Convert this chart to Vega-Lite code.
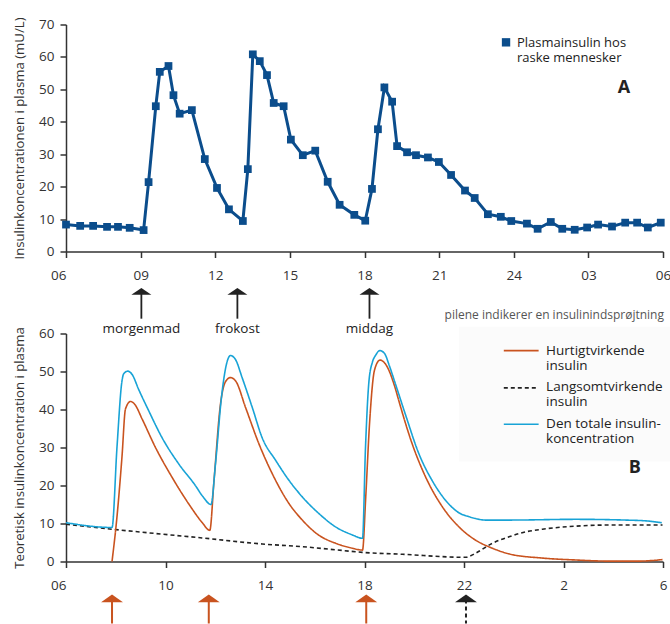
{
  "$schema": "https://vega.github.io/schema/vega-lite/v6.json",
  "padding": {"left": 12, "top": 16.5, "right": 0, "bottom": 0},
  "background": "white",
  "bounds": "flush",
  "spacing": 82,
  "config": {
    "view": {"stroke": null},
    "font": "Open Sans",
    "axis": {
      "grid": false,
      "domainColor": "#333333",
      "tickColor": "#333333",
      "labelColor": "#333333",
      "titleColor": "#333333",
      "labelFontSize": 13.5,
      "titleFontSize": 13.2,
      "titleFontWeight": "normal",
      "domainWidth": 1.5,
      "tickWidth": 1.5,
      "tickSize": 6,
      "labelOverlap": false
    }
  },
  "vconcat": [
    {
      "width": 597,
      "height": 227,
      "layer": [
        {
          "data": {"values": [
            {"hour": 6.0, "insulin": 8.3}, {"hour": 6.57, "insulin": 7.9}, {"hour": 7.09, "insulin": 7.9},
            {"hour": 7.65, "insulin": 7.6}, {"hour": 8.09, "insulin": 7.6}, {"hour": 8.56, "insulin": 7.3},
            {"hour": 9.12, "insulin": 6.6}, {"hour": 9.32, "insulin": 21.4}, {"hour": 9.61, "insulin": 44.8},
            {"hour": 9.77, "insulin": 55.4}, {"hour": 10.12, "insulin": 57.2}, {"hour": 10.32, "insulin": 48.2},
            {"hour": 10.57, "insulin": 42.5}, {"hour": 11.06, "insulin": 43.6}, {"hour": 11.58, "insulin": 28.5},
            {"hour": 12.07, "insulin": 19.6}, {"hour": 12.55, "insulin": 13.0}, {"hour": 13.11, "insulin": 9.4},
            {"hour": 13.31, "insulin": 25.4}, {"hour": 13.51, "insulin": 60.8}, {"hour": 13.79, "insulin": 58.7},
            {"hour": 14.08, "insulin": 54.4}, {"hour": 14.35, "insulin": 45.8}, {"hour": 14.75, "insulin": 44.8},
            {"hour": 15.04, "insulin": 34.5}, {"hour": 15.52, "insulin": 29.7}, {"hour": 16.02, "insulin": 31.1},
            {"hour": 16.52, "insulin": 21.5}, {"hour": 17.0, "insulin": 14.4}, {"hour": 17.59, "insulin": 11.3},
            {"hour": 18.03, "insulin": 9.5}, {"hour": 18.3, "insulin": 19.3}, {"hour": 18.54, "insulin": 37.7},
            {"hour": 18.8, "insulin": 50.6}, {"hour": 19.11, "insulin": 46.2}, {"hour": 19.31, "insulin": 32.5},
            {"hour": 19.71, "insulin": 30.6}, {"hour": 20.07, "insulin": 29.7}, {"hour": 20.55, "insulin": 29.0},
            {"hour": 20.99, "insulin": 27.6}, {"hour": 21.48, "insulin": 23.6}, {"hour": 22.04, "insulin": 18.8},
            {"hour": 22.43, "insulin": 16.5}, {"hour": 22.96, "insulin": 11.5}, {"hour": 23.48, "insulin": 10.7},
            {"hour": 23.9, "insulin": 9.4}, {"hour": 24.53, "insulin": 8.6}, {"hour": 24.96, "insulin": 7.0},
            {"hour": 25.49, "insulin": 9.1}, {"hour": 25.95, "insulin": 7.0}, {"hour": 26.45, "insulin": 6.7},
            {"hour": 26.95, "insulin": 7.4}, {"hour": 27.39, "insulin": 8.3}, {"hour": 27.95, "insulin": 7.7},
            {"hour": 28.48, "insulin": 8.9}, {"hour": 28.96, "insulin": 8.9}, {"hour": 29.39, "insulin": 7.4},
            {"hour": 29.91, "insulin": 8.9}
          ]},
          "layer": [
            {
              "mark": {"type": "line", "color": "#0b4d8c", "strokeWidth": 3},
              "encoding": {
                "x": {"field": "hour", "type": "quantitative",
                  "scale": {"domain": [6, 30], "nice": false, "zero": false},
                  "axis": {"title": null, "values": [6, 9, 12, 15, 18, 21, 24, 27, 30], "labelFlush": false,
                    "labelPadding": 11,
                    "labelAlign": {"condition": {"test": "datum.value == 6", "value": "right"}, "value": "center"},
                    "labelExpr": "datum.value == 6 || datum.value == 30 ? '06' : datum.value == 9 ? '09' : datum.value == 27 ? '03' : datum.label"}},
                "y": {"field": "insulin", "type": "quantitative",
                  "scale": {"domain": [0, 70], "nice": false, "zero": false},
                  "axis": {"title": "Insulinkoncentrationen i plasma (mU/L)", "values": [0, 10, 20, 30, 40, 50, 60, 70], "tickCount": 8,
                    "labelPadding": 6, "titlePadding": 12, "labelOverlap": false}}
              }
            },
            {
              "mark": {"type": "square", "size": 60, "color": "#0b4d8c", "opacity": 1},
              "encoding": {
                "x": {"field": "hour", "type": "quantitative", "scale": {"domain": [6, 30], "nice": false, "zero": false}},
                "y": {"field": "insulin", "type": "quantitative", "scale": {"domain": [0, 70], "nice": false, "zero": false},
                  "axis": {"title": "Insulinkoncentrationen i plasma (mU/L)", "values": [0, 10, 20, 30, 40, 50, 60, 70], "tickCount": 8,
                    "labelPadding": 6, "titlePadding": 12, "labelOverlap": false}}
              }
            }
          ]
        },
        {
          "data": {"values": [{"label": "Plasmainsulin hos raske mennesker"}]},
          "layer": [
            {
              "mark": {"type": "square", "size": 70, "color": "#0b4d8c", "opacity": 1},
              "encoding": {
                "x": {"datum": 23.69, "type": "quantitative", "scale": {"domain": [6, 30], "nice": false, "zero": false}},
                "y": {"datum": 64.5, "type": "quantitative", "scale": {"domain": [0, 70], "nice": false, "zero": false},
                  "axis": {"title": "Insulinkoncentrationen i plasma (mU/L)", "values": [0, 10, 20, 30, 40, 50, 60, 70], "tickCount": 8,
                    "labelPadding": 6, "titlePadding": 12, "labelOverlap": false}}
              }
            },
            {
              "mark": {"type": "text", "text": ["Plasmainsulin hos", "raske mennesker"], "align": "left", "baseline": "middle",
                "fontSize": 13, "lineHeight": 15, "color": "#222222"},
              "encoding": {
                "x": {"datum": 24.13, "type": "quantitative", "scale": {"domain": [6, 30], "nice": false, "zero": false}},
                "y": {"datum": 64.4, "type": "quantitative", "scale": {"domain": [0, 70], "nice": false, "zero": false},
                  "axis": {"title": "Insulinkoncentrationen i plasma (mU/L)", "values": [0, 10, 20, 30, 40, 50, 60, 70], "tickCount": 8,
                    "labelPadding": 6, "titlePadding": 12, "labelOverlap": false}}
              }
            },
            {
              "mark": {"type": "text", "text": "A", "align": "center", "baseline": "middle", "fontSize": 18, "fontWeight": "bold", "color": "#222222"},
              "encoding": {
                "x": {"datum": 28.43, "type": "quantitative", "scale": {"domain": [6, 30], "nice": false, "zero": false}},
                "y": {"datum": 50.4, "type": "quantitative", "scale": {"domain": [0, 70], "nice": false, "zero": false},
                  "axis": {"title": "Insulinkoncentrationen i plasma (mU/L)", "values": [0, 10, 20, 30, 40, 50, 60, 70], "tickCount": 8,
                    "labelPadding": 6, "titlePadding": 12, "labelOverlap": false}}
              }
            }
          ]
        }
      ]
    },
    {
      "width": 597,
      "height": 228,
      "layer": [
        {
          "data": {"values": [{"box": "legend"}]},
          "mark": {"type": "rect", "color": "#fbfbfb"},
          "encoding": {
            "x": {"datum": 21.8, "type": "quantitative", "scale": {"domain": [6, 30], "nice": false, "zero": false}},
            "x2": {"datum": 30.4},
            "y": {"datum": 61.8, "type": "quantitative", "scale": {"domain": [0, 60], "nice": false, "zero": false},
              "axis": {"title": "Teoretisk insulinkoncentration i plasma", "values": [0, 10, 20, 30, 40, 50, 60], "tickCount": 7,
                "labelPadding": 6, "titlePadding": 12, "labelOverlap": false}},
            "y2": {"datum": 26.3}
          }
        },
        {
          "data": {"values": [
            {"hour": 6.0, "value": 9.8, "series": "Langsomtvirkende insulin"},
            {"hour": 7.85, "value": 8.5, "series": "Langsomtvirkende insulin"},
            {"hour": 9.86, "value": 7.2, "series": "Langsomtvirkende insulin"},
            {"hour": 11.47, "value": 6.2, "series": "Langsomtvirkende insulin"},
            {"hour": 13.89, "value": 4.6, "series": "Langsomtvirkende insulin"},
            {"hour": 15.5, "value": 3.9, "series": "Langsomtvirkende insulin"},
            {"hour": 17.11, "value": 2.9, "series": "Langsomtvirkende insulin"},
            {"hour": 17.91, "value": 2.4, "series": "Langsomtvirkende insulin"},
            {"hour": 19.52, "value": 1.9, "series": "Langsomtvirkende insulin"},
            {"hour": 22.07, "value": 1.1, "series": "Langsomtvirkende insulin"},
            {"hour": 22.47, "value": 2.2, "series": "Langsomtvirkende insulin"},
            {"hour": 23.14, "value": 4.8, "series": "Langsomtvirkende insulin"},
            {"hour": 23.81, "value": 6.5, "series": "Langsomtvirkende insulin"},
            {"hour": 24.48, "value": 7.8, "series": "Langsomtvirkende insulin"},
            {"hour": 25.15, "value": 8.5, "series": "Langsomtvirkende insulin"},
            {"hour": 26.49, "value": 9.3, "series": "Langsomtvirkende insulin"},
            {"hour": 27.83, "value": 9.6, "series": "Langsomtvirkende insulin"},
            {"hour": 29.98, "value": 9.6, "series": "Langsomtvirkende insulin"},

            {"hour": 7.85, "value": 0.0, "series": "Hurtigtvirkende insulin"},
            {"hour": 8.05, "value": 11.8, "series": "Hurtigtvirkende insulin"},
            {"hour": 8.25, "value": 27.5, "series": "Hurtigtvirkende insulin"},
            {"hour": 8.39, "value": 40.1, "series": "Hurtigtvirkende insulin"},
            {"hour": 8.59, "value": 42.1, "series": "Hurtigtvirkende insulin"},
            {"hour": 8.76, "value": 41.4, "series": "Hurtigtvirkende insulin"},
            {"hour": 9.06, "value": 37.5, "series": "Hurtigtvirkende insulin"},
            {"hour": 9.59, "value": 30.1, "series": "Hurtigtvirkende insulin"},
            {"hour": 10.26, "value": 22.2, "series": "Hurtigtvirkende insulin"},
            {"hour": 10.93, "value": 15.2, "series": "Hurtigtvirkende insulin"},
            {"hour": 11.47, "value": 10.3, "series": "Hurtigtvirkende insulin"},
            {"hour": 11.78, "value": 8.2, "series": "Hurtigtvirkende insulin"},
            {"hour": 11.95, "value": 21.3, "series": "Hurtigtvirkende insulin"},
            {"hour": 12.21, "value": 41.4, "series": "Hurtigtvirkende insulin"},
            {"hour": 12.41, "value": 47.3, "series": "Hurtigtvirkende insulin"},
            {"hour": 12.61, "value": 48.4, "series": "Hurtigtvirkende insulin"},
            {"hour": 12.82, "value": 47.5, "series": "Hurtigtvirkende insulin"},
            {"hour": 13.22, "value": 40.5, "series": "Hurtigtvirkende insulin"},
            {"hour": 13.76, "value": 30.9, "series": "Hurtigtvirkende insulin"},
            {"hour": 14.3, "value": 23.0, "series": "Hurtigtvirkende insulin"},
            {"hour": 14.97, "value": 15.2, "series": "Hurtigtvirkende insulin"},
            {"hour": 15.5, "value": 10.9, "series": "Hurtigtvirkende insulin"},
            {"hour": 16.17, "value": 6.9, "series": "Hurtigtvirkende insulin"},
            {"hour": 16.84, "value": 4.8, "series": "Hurtigtvirkende insulin"},
            {"hour": 17.51, "value": 3.5, "series": "Hurtigtvirkende insulin"},
            {"hour": 17.92, "value": 3.0, "series": "Hurtigtvirkende insulin"},
            {"hour": 18.05, "value": 17.0, "series": "Hurtigtvirkende insulin"},
            {"hour": 18.2, "value": 36.0, "series": "Hurtigtvirkende insulin"},
            {"hour": 18.4, "value": 50.3, "series": "Hurtigtvirkende insulin"},
            {"hour": 18.62, "value": 53.0, "series": "Hurtigtvirkende insulin"},
            {"hour": 18.85, "value": 51.9, "series": "Hurtigtvirkende insulin"},
            {"hour": 19.25, "value": 45.3, "series": "Hurtigtvirkende insulin"},
            {"hour": 19.38, "value": 42.3, "series": "Hurtigtvirkende insulin"},
            {"hour": 19.92, "value": 30.9, "series": "Hurtigtvirkende insulin"},
            {"hour": 20.46, "value": 22.2, "series": "Hurtigtvirkende insulin"},
            {"hour": 21.13, "value": 14.4, "series": "Hurtigtvirkende insulin"},
            {"hour": 21.8, "value": 9.1, "series": "Hurtigtvirkende insulin"},
            {"hour": 22.47, "value": 5.6, "series": "Hurtigtvirkende insulin"},
            {"hour": 23.14, "value": 3.5, "series": "Hurtigtvirkende insulin"},
            {"hour": 23.81, "value": 2.0, "series": "Hurtigtvirkende insulin"},
            {"hour": 25.15, "value": 0.9, "series": "Hurtigtvirkende insulin"},
            {"hour": 26.49, "value": 0.4, "series": "Hurtigtvirkende insulin"},
            {"hour": 27.83, "value": 0.1, "series": "Hurtigtvirkende insulin"},
            {"hour": 29.0, "value": 0.1, "series": "Hurtigtvirkende insulin"},
            {"hour": 29.98, "value": 0.5, "series": "Hurtigtvirkende insulin"},

            {"hour": 6.0, "value": 10.2, "series": "Den totale insulinkoncentration"},
            {"hour": 7.85, "value": 8.95, "series": "Den totale insulinkoncentration"},
            {"hour": 8.05, "value": 30.1, "series": "Den totale insulinkoncentration"},
            {"hour": 8.25, "value": 47.5, "series": "Den totale insulinkoncentration"},
            {"hour": 8.32, "value": 49.4, "series": "Den totale insulinkoncentration"},
            {"hour": 8.48, "value": 50.1, "series": "Den totale insulinkoncentration"},
            {"hour": 8.66, "value": 49.2, "series": "Den totale insulinkoncentration"},
            {"hour": 8.92, "value": 45.3, "series": "Den totale insulinkoncentration"},
            {"hour": 9.33, "value": 39.6, "series": "Den totale insulinkoncentration"},
            {"hour": 9.86, "value": 32.6, "series": "Den totale insulinkoncentration"},
            {"hour": 10.53, "value": 25.7, "series": "Den totale insulinkoncentration"},
            {"hour": 11.2, "value": 20.0, "series": "Den totale insulinkoncentration"},
            {"hour": 11.5, "value": 17.1, "series": "Den totale insulinkoncentration"},
            {"hour": 11.83, "value": 15.0, "series": "Den totale insulinkoncentration"},
            {"hour": 12.01, "value": 25.7, "series": "Den totale insulinkoncentration"},
            {"hour": 12.25, "value": 43.2, "series": "Den totale insulinkoncentration"},
            {"hour": 12.42, "value": 51.0, "series": "Den totale insulinkoncentration"},
            {"hour": 12.61, "value": 54.2, "series": "Den totale insulinkoncentration"},
            {"hour": 12.81, "value": 53.2, "series": "Den totale insulinkoncentration"},
            {"hour": 13.08, "value": 48.4, "series": "Den totale insulinkoncentration"},
            {"hour": 13.49, "value": 40.5, "series": "Den totale insulinkoncentration"},
            {"hour": 13.89, "value": 32.5, "series": "Den totale insulinkoncentration"},
            {"hour": 14.43, "value": 26.6, "series": "Den totale insulinkoncentration"},
            {"hour": 14.97, "value": 21.3, "series": "Den totale insulinkoncentration"},
            {"hour": 15.5, "value": 17.0, "series": "Den totale insulinkoncentration"},
            {"hour": 16.17, "value": 12.6, "series": "Den totale insulinkoncentration"},
            {"hour": 16.84, "value": 9.1, "series": "Den totale insulinkoncentration"},
            {"hour": 17.51, "value": 7.0, "series": "Den totale insulinkoncentration"},
            {"hour": 17.92, "value": 6.1, "series": "Den totale insulinkoncentration"},
            {"hour": 18.04, "value": 30.0, "series": "Den totale insulinkoncentration"},
            {"hour": 18.18, "value": 47.5, "series": "Den totale insulinkoncentration"},
            {"hour": 18.32, "value": 52.5, "series": "Den totale insulinkoncentration"},
            {"hour": 18.45, "value": 54.3, "series": "Den totale insulinkoncentration"},
            {"hour": 18.61, "value": 55.5, "series": "Den totale insulinkoncentration"},
            {"hour": 18.8, "value": 54.8, "series": "Den totale insulinkoncentration"},
            {"hour": 19.0, "value": 51.5, "series": "Den totale insulinkoncentration"},
            {"hour": 19.25, "value": 46.6, "series": "Den totale insulinkoncentration"},
            {"hour": 19.65, "value": 38.6, "series": "Den totale insulinkoncentration"},
            {"hour": 20.19, "value": 28.3, "series": "Den totale insulinkoncentration"},
            {"hour": 20.72, "value": 21.3, "series": "Den totale insulinkoncentration"},
            {"hour": 21.26, "value": 16.1, "series": "Den totale insulinkoncentration"},
            {"hour": 21.8, "value": 12.8, "series": "Den totale insulinkoncentration"},
            {"hour": 22.2, "value": 11.8, "series": "Den totale insulinkoncentration"},
            {"hour": 22.47, "value": 11.3, "series": "Den totale insulinkoncentration"},
            {"hour": 22.87, "value": 10.9, "series": "Den totale insulinkoncentration"},
            {"hour": 23.81, "value": 10.9, "series": "Den totale insulinkoncentration"},
            {"hour": 26.49, "value": 11.1, "series": "Den totale insulinkoncentration"},
            {"hour": 28.5, "value": 10.9, "series": "Den totale insulinkoncentration"},
            {"hour": 29.3, "value": 10.7, "series": "Den totale insulinkoncentration"},
            {"hour": 29.95, "value": 10.2, "series": "Den totale insulinkoncentration"}
          ]},
          "mark": {"type": "line", "strokeWidth": 1.6, "interpolate": "monotone"},
          "encoding": {
            "x": {"field": "hour", "type": "quantitative",
              "scale": {"domain": [6, 30], "nice": false, "zero": false},
              "axis": {"title": null, "values": [6, 10, 14, 18, 22, 26, 30], "labelFlush": false,
                "labelPadding": 11,
                "labelAlign": {"condition": {"test": "datum.value == 6", "value": "right"}, "value": "center"},
                "labelExpr": "datum.value == 6 ? '06' : datum.value == 26 ? '2' : datum.value == 30 ? '6' : datum.label"}},
            "y": {"field": "value", "type": "quantitative",
              "scale": {"domain": [0, 60], "nice": false, "zero": false},
              "axis": {"title": "Teoretisk insulinkoncentration i plasma", "values": [0, 10, 20, 30, 40, 50, 60], "tickCount": 7,
                "labelPadding": 6, "titlePadding": 12, "labelOverlap": false}},
            "color": {"field": "series", "type": "nominal", "legend": null,
              "scale": {"domain": ["Hurtigtvirkende insulin", "Langsomtvirkende insulin", "Den totale insulinkoncentration"],
                "range": ["#c9531f", "#222222", "#18a3d6"]}},
            "strokeDash": {"field": "series", "type": "nominal", "legend": null,
              "scale": {"domain": ["Hurtigtvirkende insulin", "Langsomtvirkende insulin", "Den totale insulinkoncentration"],
                "range": [[1, 0], [4, 3], [1, 0]]}}
          }
        },
        {
          "data": {"values": [
            {"hour": 9.03, "meal": "morgenmad"},
            {"hour": 12.89, "meal": "frokost"},
            {"hour": 18.2, "meal": "middag"}
          ]},
          "layer": [
            {
              "mark": {"type": "rule", "color": "#222222", "strokeWidth": 1.8},
              "encoding": {
                "x": {"field": "hour", "type": "quantitative", "scale": {"domain": [6, 30], "nice": false, "zero": false}},
                "y": {"datum": 70.5, "type": "quantitative", "scale": {"domain": [0, 60], "nice": false, "zero": false},
                  "axis": {"title": "Teoretisk insulinkoncentration i plasma", "values": [0, 10, 20, 30, 40, 50, 60], "tickCount": 7,
                    "labelPadding": 6, "titlePadding": 12, "labelOverlap": false}},
                "y2": {"datum": 63.9}
              }
            },
            {
              "mark": {"type": "point", "shape": "M0,0L1,0.68L-1,0.68Z", "size": 400, "filled": true, "color": "#222222", "opacity": 1},
              "encoding": {
                "x": {"field": "hour", "type": "quantitative", "scale": {"domain": [6, 30], "nice": false, "zero": false}},
                "y": {"datum": 72.0, "type": "quantitative", "scale": {"domain": [0, 60], "nice": false, "zero": false},
                  "axis": {"title": "Teoretisk insulinkoncentration i plasma", "values": [0, 10, 20, 30, 40, 50, 60], "tickCount": 7,
                    "labelPadding": 6, "titlePadding": 12, "labelOverlap": false}}
              }
            },
            {
              "mark": {"type": "text", "align": "center", "baseline": "middle", "fontSize": 13.5, "color": "#222222"},
              "encoding": {
                "x": {"field": "hour", "type": "quantitative", "scale": {"domain": [6, 30], "nice": false, "zero": false}},
                "y": {"datum": 61.3, "type": "quantitative", "scale": {"domain": [0, 60], "nice": false, "zero": false},
                  "axis": {"title": "Teoretisk insulinkoncentration i plasma", "values": [0, 10, 20, 30, 40, 50, 60], "tickCount": 7,
                    "labelPadding": 6, "titlePadding": 12, "labelOverlap": false}},
                "text": {"field": "meal"}
              }
            }
          ]
        },
        {
          "data": {"values": [
            {"hour": 7.85, "type": "Hurtigtvirkende insulin"},
            {"hour": 11.74, "type": "Hurtigtvirkende insulin"},
            {"hour": 18.07, "type": "Hurtigtvirkende insulin"},
            {"hour": 22.08, "type": "Langsomtvirkende insulin"}
          ]},
          "layer": [
            {
              "mark": {"type": "rule", "strokeWidth": 2},
              "encoding": {
                "x": {"field": "hour", "type": "quantitative", "scale": {"domain": [6, 30], "nice": false, "zero": false}},
                "y": {"datum": -10.0, "type": "quantitative", "scale": {"domain": [0, 60], "nice": false, "zero": false},
                  "axis": {"title": "Teoretisk insulinkoncentration i plasma", "values": [0, 10, 20, 30, 40, 50, 60], "tickCount": 7,
                    "labelPadding": 6, "titlePadding": 12, "labelOverlap": false}},
                "y2": {"datum": -16.3},
                "color": {"field": "type", "type": "nominal", "legend": null,
                  "scale": {"domain": ["Hurtigtvirkende insulin", "Langsomtvirkende insulin", "Den totale insulinkoncentration"],
                    "range": ["#c9531f", "#222222", "#18a3d6"]}},
                "strokeDash": {"field": "type", "type": "nominal", "legend": null,
                  "scale": {"domain": ["Hurtigtvirkende insulin", "Langsomtvirkende insulin", "Den totale insulinkoncentration"],
                    "range": [[1, 0], [4, 3], [1, 0]]}}
              }
            },
            {
              "mark": {"type": "point", "shape": "M0,0L1,0.7L-1,0.7Z", "size": 480, "filled": true, "opacity": 1},
              "encoding": {
                "x": {"field": "hour", "type": "quantitative", "scale": {"domain": [6, 30], "nice": false, "zero": false}},
                "y": {"datum": -8.7, "type": "quantitative", "scale": {"domain": [0, 60], "nice": false, "zero": false},
                  "axis": {"title": "Teoretisk insulinkoncentration i plasma", "values": [0, 10, 20, 30, 40, 50, 60], "tickCount": 7,
                    "labelPadding": 6, "titlePadding": 12, "labelOverlap": false}},
                "color": {"field": "type", "type": "nominal", "legend": null,
                  "scale": {"domain": ["Hurtigtvirkende insulin", "Langsomtvirkende insulin", "Den totale insulinkoncentration"],
                    "range": ["#c9531f", "#222222", "#18a3d6"]}}
              }
            }
          ]
        },
        {
          "data": {"values": [{"note": "pilene indikerer en insulinindsprøjtning"}]},
          "layer": [
            {
              "mark": {"type": "text", "align": "right", "baseline": "middle", "fontSize": 12, "color": "#555555"},
              "encoding": {
                "x": {"datum": 30.04, "type": "quantitative", "scale": {"domain": [6, 30], "nice": false, "zero": false}},
                "y": {"datum": 65.0, "type": "quantitative", "scale": {"domain": [0, 60], "nice": false, "zero": false},
                  "axis": {"title": "Teoretisk insulinkoncentration i plasma", "values": [0, 10, 20, 30, 40, 50, 60], "tickCount": 7,
                    "labelPadding": 6, "titlePadding": 12, "labelOverlap": false}},
                "text": {"field": "note"}
              }
            },
            {
              "mark": {"type": "rule", "strokeWidth": 1.6, "color": "#c9531f"},
              "encoding": {
                "x": {"datum": 23.6, "type": "quantitative", "scale": {"domain": [6, 30], "nice": false, "zero": false}},
                "x2": {"datum": 25.0},
                "y": {"datum": 55.5, "type": "quantitative", "scale": {"domain": [0, 60], "nice": false, "zero": false},
                  "axis": {"title": "Teoretisk insulinkoncentration i plasma", "values": [0, 10, 20, 30, 40, 50, 60], "tickCount": 7,
                    "labelPadding": 6, "titlePadding": 12, "labelOverlap": false}}
              }
            },
            {
              "mark": {"type": "rule", "strokeWidth": 1.6, "color": "#222222", "strokeDash": [4, 3]},
              "encoding": {
                "x": {"datum": 23.6, "type": "quantitative", "scale": {"domain": [6, 30], "nice": false, "zero": false}},
                "x2": {"datum": 25.0},
                "y": {"datum": 45.7, "type": "quantitative", "scale": {"domain": [0, 60], "nice": false, "zero": false},
                  "axis": {"title": "Teoretisk insulinkoncentration i plasma", "values": [0, 10, 20, 30, 40, 50, 60], "tickCount": 7,
                    "labelPadding": 6, "titlePadding": 12, "labelOverlap": false}}
              }
            },
            {
              "mark": {"type": "rule", "strokeWidth": 1.6, "color": "#18a3d6"},
              "encoding": {
                "x": {"datum": 23.6, "type": "quantitative", "scale": {"domain": [6, 30], "nice": false, "zero": false}},
                "x2": {"datum": 25.0},
                "y": {"datum": 36.1, "type": "quantitative", "scale": {"domain": [0, 60], "nice": false, "zero": false},
                  "axis": {"title": "Teoretisk insulinkoncentration i plasma", "values": [0, 10, 20, 30, 40, 50, 60], "tickCount": 7,
                    "labelPadding": 6, "titlePadding": 12, "labelOverlap": false}}
              }
            },
            {"mark": {"type": "text", "text": ["Hurtigtvirkende", "insulin"], "align": "left", "baseline": "middle", "fontSize": 13.5, "lineHeight": 15, "color": "#222222"},
             "encoding": {
               "x": {"datum": 25.3, "type": "quantitative", "scale": {"domain": [6, 30], "nice": false, "zero": false}},
               "y": {"datum": 55.3, "type": "quantitative", "scale": {"domain": [0, 60], "nice": false, "zero": false},
                 "axis": {"title": "Teoretisk insulinkoncentration i plasma", "values": [0, 10, 20, 30, 40, 50, 60], "tickCount": 7,
                   "labelPadding": 6, "titlePadding": 12, "labelOverlap": false}}}},
            {"mark": {"type": "text", "text": ["Langsomtvirkende", "insulin"], "align": "left", "baseline": "middle", "fontSize": 13.5, "lineHeight": 15, "color": "#222222"},
             "encoding": {
               "x": {"datum": 25.3, "type": "quantitative", "scale": {"domain": [6, 30], "nice": false, "zero": false}},
               "y": {"datum": 45.8, "type": "quantitative", "scale": {"domain": [0, 60], "nice": false, "zero": false},
                 "axis": {"title": "Teoretisk insulinkoncentration i plasma", "values": [0, 10, 20, 30, 40, 50, 60], "tickCount": 7,
                   "labelPadding": 6, "titlePadding": 12, "labelOverlap": false}}}},
            {"mark": {"type": "text", "text": ["Den totale insulin-", "koncentration"], "align": "left", "baseline": "middle", "fontSize": 13.5, "lineHeight": 15, "color": "#222222"},
             "encoding": {
               "x": {"datum": 25.3, "type": "quantitative", "scale": {"domain": [6, 30], "nice": false, "zero": false}},
               "y": {"datum": 36.1, "type": "quantitative", "scale": {"domain": [0, 60], "nice": false, "zero": false},
                 "axis": {"title": "Teoretisk insulinkoncentration i plasma", "values": [0, 10, 20, 30, 40, 50, 60], "tickCount": 7,
                   "labelPadding": 6, "titlePadding": 12, "labelOverlap": false}}}},
            {"mark": {"type": "text", "text": "B", "align": "center", "baseline": "middle", "fontSize": 18, "fontWeight": "bold", "color": "#222222"},
             "encoding": {
               "x": {"datum": 28.87, "type": "quantitative", "scale": {"domain": [6, 30], "nice": false, "zero": false}},
               "y": {"datum": 24.5, "type": "quantitative", "scale": {"domain": [0, 60], "nice": false, "zero": false},
                 "axis": {"title": "Teoretisk insulinkoncentration i plasma", "values": [0, 10, 20, 30, 40, 50, 60], "tickCount": 7,
                   "labelPadding": 6, "titlePadding": 12, "labelOverlap": false}}}}
          ]
        }
      ]
    }
  ]
}
